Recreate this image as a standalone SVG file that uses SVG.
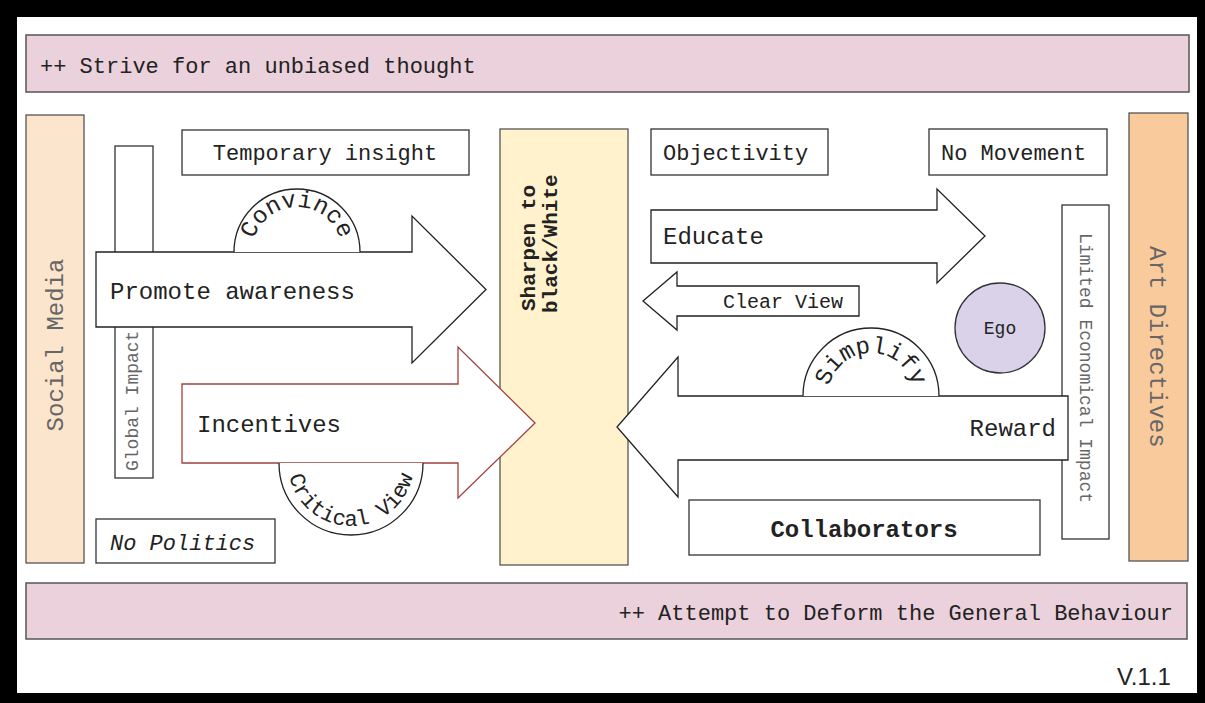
<svg xmlns="http://www.w3.org/2000/svg" width="1205" height="703" viewBox="0 0 1205 703">
<style>
.box{fill:#ffffff;stroke:#333;stroke-width:1.3}
.pink{fill:#ead1dc;stroke:#555;stroke-width:1.5}
.arrow{fill:#ffffff;stroke:#222;stroke-width:1.3}
.t{font-family:"Liberation Mono","Courier New",monospace;fill:#222}
.g{font-family:"Liberation Mono","Courier New",monospace;fill:#666}
.b{font-weight:bold}
</style>
<defs>
<path id="pConvince" d="M252,252 A45,45 0 0 1 342,252"/>
<path id="pCritical" d="M288,463 A63,63 0 0 0 414,463"/>
<path id="pSimplify" d="M828,396 A43,43 0 0 1 914,396"/>
</defs>
<rect x="0" y="0" width="1205" height="703" fill="#000"/>
<rect x="17" y="17" width="1180" height="676" fill="#fff"/>

<g id="top-bar"><rect class="pink" x="26" y="35" width="1163" height="57"/><text class="t" x="40" y="73" font-size="22" fill="#333">++ Strive for an unbiased thought</text></g>
<g id="bottom-bar"><rect class="pink" x="26" y="583" width="1161" height="56"/><text class="t" x="1173" y="620" font-size="22" text-anchor="end">++ Attempt to Deform the General Behaviour</text></g>

<g id="social-media"><rect x="26" y="115" width="58" height="448" fill="#fce5cd" stroke="#555" stroke-width="1.3"/><text class="g" font-size="24" text-anchor="middle" transform="translate(63,345) rotate(-90)">Social Media</text></g>
<g id="global-impact"><rect class="box" x="115" y="146" width="38" height="332"/><text class="g" font-size="18" transform="translate(138,471) rotate(-90)">Global Impact</text></g>
<g id="no-politics"><rect class="box" x="96" y="519" width="179" height="44"/><text class="t" x="110" y="550" font-size="22" font-style="italic">No Politics</text></g>
<g id="temporary-insight"><rect class="box" x="182" y="130" width="287" height="45"/><text class="t" x="325" y="160" font-size="22" text-anchor="middle">Temporary insight</text></g>

<g id="sharpen"><rect x="500" y="129" width="128" height="436" fill="#fff2cc" stroke="#555" stroke-width="1.3"/><text class="t b" font-size="21" transform="translate(535,311) rotate(-90)">Sharpen to</text><text class="t b" font-size="21" transform="translate(557,313) rotate(-90)">black/White</text></g>

<g id="objectivity"><rect class="box" x="651" y="129" width="177" height="46"/><text class="t" x="663" y="160" font-size="22">Objectivity</text></g>
<g id="no-movement"><rect class="box" x="929" y="129" width="178" height="46"/><text class="t" x="941" y="160" font-size="22">No Movement</text></g>
<g id="limited-economical-impact"><rect class="box" x="1062" y="205" width="47" height="334"/><text class="g" font-size="18" transform="translate(1080,233) rotate(90)">Limited Economical Impact</text></g>
<g id="art-directives"><rect x="1129" y="113" width="59" height="448" fill="#f9cb9c" stroke="#555" stroke-width="1.3"/><text class="g" font-size="24" transform="translate(1150,246) rotate(90)">Art Directives</text></g>
<g id="ego"><circle cx="1000" cy="328" r="45" fill="#d9d2e9" stroke="#333" stroke-width="1.3"/><text class="t" x="1000" y="334" font-size="18" text-anchor="middle">Ego</text></g>
<g id="collaborators"><rect class="box" x="689" y="500" width="351" height="55"/><text class="t b" x="864" y="537" font-size="24" text-anchor="middle">Collaborators</text></g>
<g id="version"><text x="1117" y="685" font-family="'Liberation Sans',Arial,sans-serif" font-size="24" fill="#222">V.1.1</text></g>

<g id="connectors">
<g id="promote-awareness"><path class="arrow" d="M96,252 H412 V216 L486,289.5 L412,363 V327 H96 Z"/><text class="t" x="110" y="299" font-size="24">Promote awareness</text></g>
<g id="convince"><path class="arrow" d="M234,252 A63,63 0 0 1 360,252"/><text class="t" font-size="24"><textPath href="#pConvince" startOffset="50%" text-anchor="middle">Convince</textPath></text></g>
<g id="incentives"><path d="M182,384 H458 V347 L535,423 L458,498 V463 H182 Z" fill="#fff" stroke="#a0403f" stroke-width="1.3"/><text class="t" x="197" y="432" font-size="24">Incentives</text></g>
<g id="critical-view"><path class="arrow" d="M279,463 A72,72 0 0 0 423,463"/><text class="t" font-size="22"><textPath href="#pCritical" startOffset="50%" text-anchor="middle">Critical View</textPath></text></g>
<g id="educate"><path class="arrow" d="M651,210 H937 V189 L985,236 L937,283 V263 H651 Z"/><text class="t" x="663" y="244" font-size="24">Educate</text></g>
<g id="clear-view"><path class="arrow" d="M859,286 H677 V272 L643,301 L677,330 V316 H859 Z"/><text class="t" x="843" y="308" font-size="20" text-anchor="end">Clear View</text></g>
<g id="reward"><path class="arrow" d="M1068,396 H678 V357 L617,427 L678,497 V460 H1068 Z"/><text class="t" x="1056" y="436" font-size="24" text-anchor="end">Reward</text></g>
<g id="simplify"><path class="arrow" d="M803,396 A68,68 0 0 1 939,396"/><text class="t" font-size="24"><textPath href="#pSimplify" startOffset="50%" text-anchor="middle">Simplify</textPath></text></g>
</g>
</svg>
